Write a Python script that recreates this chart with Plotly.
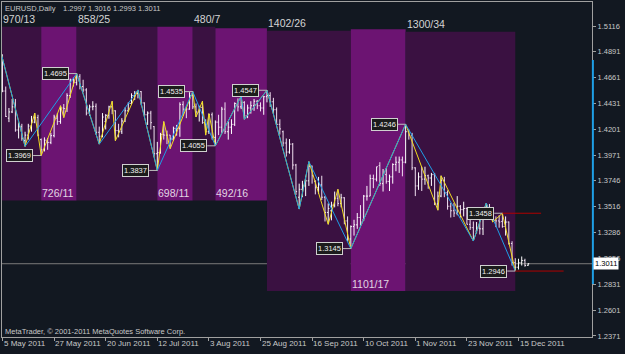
import plotly.graph_objects as go

# ---------------- data ----------------
open_ = [1.4830,1.4540,1.4300,1.4355,1.4400,1.4195,1.4225,1.4100,1.4150,1.4230,1.4265,1.4305,1.4110,1.4020,1.4105,1.4085,
         1.4145,1.4300,1.4270,1.4390,1.4385,1.4500,1.4640,1.4615,1.4670,1.4580,1.4550,1.4345,1.4400,1.4405,1.4175,1.4140,
         1.4270,1.4325,1.4400,1.4365,1.4190,1.4180,1.4275,1.4365,1.4430,1.4500,1.4520,1.4535,1.4435,1.4330,1.4345,1.4225,
         1.3985,1.3995,1.4155,1.4150,1.4150,1.4115,1.4210,1.4210,1.4420,1.4380,1.4380,1.4500,1.4400,1.4355,1.4395,1.4260,
         1.4180,1.4330,1.4130,1.4265,1.4220,1.4380,1.4180,1.4220,1.4245,1.4430,1.4400,1.4440,1.4320,1.4390,1.4410,1.4450,
         1.4410,1.4390,1.4490,1.4500,1.4445,1.4375,1.4245,1.4180,1.4080,1.4000,1.4070,1.3885,1.3600,1.3670,1.3700,1.3745,
         1.3875,1.3740,1.3685,1.3710,1.3600,1.3465,1.3480,1.3530,1.3590,1.3545,1.3595,1.3390,1.3230,1.3340,1.3355,1.3420,
         1.3400,1.3610,1.3610,1.3765,1.3760,1.3880,1.3720,1.3800,1.3740,1.3780,1.3890,1.3910,1.3930,1.3910,1.4180,1.4150,
         1.3860,1.3700,1.3780,1.3760,1.3790,1.3770,1.3800,1.3540,1.3610,1.3750,1.3640,1.3520,1.3480,1.3460,1.3520,1.3490,
         1.3500,1.3360,1.3330,1.3300,1.3325,1.3320,1.3445,1.3470,1.3435,1.3400,1.3390,1.3385,1.3340,1.3380,1.3190,1.3020,
         1.2980,1.3020,1.3040,1.2997]
high = [1.4865,1.4580,1.4390,1.4470,1.4470,1.4260,1.4250,1.4180,1.4250,1.4320,1.4345,1.4330,1.4120,1.4130,1.4125,1.4170,
        1.4330,1.4345,1.4410,1.4425,1.4520,1.4650,1.4660,1.4695,1.4690,1.4640,1.4565,1.4420,1.4450,1.4430,1.4225,1.4345,
        1.4335,1.4410,1.4450,1.4370,1.4250,1.4300,1.4395,1.4440,1.4520,1.4540,1.4550,1.4540,1.4440,1.4360,1.4365,1.4230,
        1.4090,1.4170,1.4270,1.4190,1.4150,1.4225,1.4240,1.4440,1.4450,1.4400,1.4530,1.4535,1.4430,1.4410,1.4450,1.4290,
        1.4340,1.4350,1.4280,1.4330,1.4400,1.4440,1.4270,1.4290,1.4440,1.4475,1.4495,1.4450,1.4420,1.4450,1.4470,1.4460,
        1.4440,1.4495,1.4547,1.4530,1.4480,1.4395,1.4290,1.4190,1.4120,1.4115,1.4080,1.3895,1.3720,1.3745,1.3790,1.3915,
        1.3880,1.3750,1.3780,1.3790,1.3610,1.3545,1.3560,1.3650,1.3670,1.3630,1.3600,1.3430,1.3350,1.3400,1.3460,1.3530,
        1.3620,1.3700,1.3800,1.3800,1.3870,1.3910,1.3850,1.3860,1.3800,1.3900,1.3960,1.3960,1.3960,1.4246,1.4200,1.4170,
        1.3865,1.3820,1.3870,1.3870,1.3800,1.3815,1.3815,1.3650,1.3790,1.3780,1.3660,1.3550,1.3550,1.3610,1.3530,1.3560,
        1.3510,1.3405,1.3385,1.3380,1.3410,1.3460,1.3548,1.3540,1.3490,1.3430,1.3440,1.3458,1.3430,1.3385,1.3210,1.3060,
        1.3055,1.3075,1.3055,1.3016]
low = [1.4530,1.4310,1.4265,1.4345,1.4180,1.4120,1.4100,1.4050,1.4110,1.4180,1.4255,1.4140,1.3969,1.4005,1.4020,1.4070,
       1.4130,1.4240,1.4250,1.4305,1.4355,1.4480,1.4580,1.4590,1.4555,1.4530,1.4325,1.4320,1.4370,1.4155,1.4070,1.4130,
       1.4200,1.4295,1.4335,1.4100,1.4130,1.4160,1.4265,1.4355,1.4420,1.4460,1.4475,1.4415,1.4325,1.4240,1.4200,1.3960,
       1.3837,1.3985,1.4110,1.4070,1.4030,1.4100,1.4145,1.4135,1.4320,1.4300,1.4375,1.4380,1.4310,1.4270,1.4250,1.4150,
       1.4160,1.4110,1.4055,1.4150,1.4170,1.4160,1.4110,1.4160,1.4230,1.4360,1.4380,1.4290,1.4300,1.4340,1.4365,1.4380,
       1.4360,1.4330,1.4440,1.4400,1.4340,1.4235,1.4155,1.4050,1.3960,1.3985,1.3845,1.3620,1.3495,1.3600,1.3610,1.3700,
       1.3720,1.3625,1.3630,1.3575,1.3385,1.3360,1.3395,1.3510,1.3520,1.3510,1.3360,1.3210,1.3145,1.3260,1.3320,1.3350,
       1.3390,1.3570,1.3610,1.3680,1.3740,1.3700,1.3650,1.3720,1.3655,1.3720,1.3830,1.3815,1.3785,1.3900,1.4110,1.3840,
       1.3610,1.3665,1.3655,1.3710,1.3675,1.3700,1.3530,1.3485,1.3600,1.3600,1.3490,1.3420,1.3425,1.3440,1.3420,1.3430,
       1.3360,1.3310,1.3212,1.3280,1.3270,1.3265,1.3420,1.3410,1.3380,1.3335,1.3330,1.3330,1.3260,1.3180,1.2995,1.2946,
       1.2960,1.2995,1.2985,1.2993]
close = [1.4540,1.4315,1.4355,1.4400,1.4195,1.4225,1.4120,1.4150,1.4230,1.4265,1.4305,1.4150,1.4020,1.4105,1.4085,1.4145,
         1.4310,1.4270,1.4390,1.4385,1.4500,1.4640,1.4615,1.4670,1.4580,1.4550,1.4345,1.4400,1.4405,1.4175,1.4140,1.4310,
         1.4325,1.4400,1.4365,1.4190,1.4180,1.4275,1.4365,1.4430,1.4500,1.4520,1.4535,1.4435,1.4330,1.4345,1.4260,1.3985,
         1.3995,1.4155,1.4150,1.4150,1.4115,1.4210,1.4210,1.4420,1.4380,1.4380,1.4500,1.4400,1.4355,1.4395,1.4260,1.4180,
         1.4330,1.4130,1.4265,1.4220,1.4380,1.4180,1.4220,1.4245,1.4430,1.4400,1.4440,1.4320,1.4390,1.4410,1.4450,1.4410,
         1.4390,1.4490,1.4500,1.4445,1.4375,1.4245,1.4205,1.4080,1.4000,1.4070,1.3885,1.3650,1.3670,1.3700,1.3745,1.3875,
         1.3790,1.3685,1.3710,1.3600,1.3465,1.3500,1.3530,1.3590,1.3545,1.3595,1.3390,1.3230,1.3340,1.3355,1.3420,1.3380,
         1.3610,1.3610,1.3765,1.3760,1.3870,1.3720,1.3800,1.3740,1.3780,1.3890,1.3910,1.3930,1.3910,1.4180,1.4150,1.3860,
         1.3700,1.3780,1.3760,1.3790,1.3770,1.3800,1.3540,1.3610,1.3750,1.3640,1.3520,1.3480,1.3460,1.3520,1.3490,1.3500,
         1.3360,1.3330,1.3240,1.3325,1.3320,1.3445,1.3470,1.3435,1.3400,1.3390,1.3380,1.3340,1.3380,1.3190,1.3020,1.2980,
         1.3020,1.3040,1.2995,1.3011]
bar_index = list(range(len(close)))

date_tick_index = [0, 16, 32, 48, 64, 80, 96, 112, 128, 144, 160]
date_tick_text = ["5 May 2011", "27 May 2011", "20 Jun 2011", "12 Jul 2011", "3 Aug 2011", "25 Aug 2011",
                  "16 Sep 2011", "10 Oct 2011", "1 Nov 2011", "23 Nov 2011", "15 Dec 2011"]

price_ticks = [1.5116, 1.4891, 1.4661, 1.4431, 1.4201, 1.3971, 1.3746, 1.3516, 1.3286, 1.3056, 1.2831, 1.2601, 1.2371]

# swing zones (bar index start/end, price top/bottom), label, direction
zone_start = [-1, 12, 23, 48, 59, 66, 82, 108, 125]
zone_end = [12, 23, 48, 59, 66, 82, 108, 125, 159]
zone_top = [1.5110, 1.5110, 1.5110, 1.5110, 1.5110, 1.5096, 1.5074, 1.5087, 1.5066]
zone_bottom = [1.3571, 1.3571, 1.3571, 1.3571, 1.3571, 1.3571, 1.2769, 1.2769, 1.2769]
zone_label = ["970/13", "726/11", "858/25", "698/11", "480/7", "492/16", "1402/26", "1101/17", "1300/34"]
zone_up = [False, True, False, True, False, True, False, True, False]

# zigzags
blue_idx = [-1, 7, 23, 30, 42, 48, 59, 66, 74, 75, 82, 92, 95, 108, 125, 146, 150, 159]
blue_px = [1.4939, 1.4050, 1.4695, 1.4070, 1.4550, 1.3837, 1.4535, 1.4055, 1.4495, 1.4290, 1.4547,
           1.3495, 1.3915, 1.3145, 1.4246, 1.3212, 1.3548, 1.2946]
yellow_idx = [-1, 7, 10, 12, 18, 19, 23, 30, 34, 35, 42, 48, 50, 52, 59, 60, 62, 63, 64, 66, 74, 75, 82,
              92, 95, 101, 104, 108, 125, 135, 136, 146, 150, 152, 155, 159]
yellow_px = [1.4939, 1.4050, 1.4345, 1.3969, 1.4410, 1.4305, 1.4695, 1.4070, 1.4450, 1.4100, 1.4550, 1.3837,
             1.4270, 1.4030, 1.4535, 1.4310, 1.4450, 1.4150, 1.4340, 1.4055, 1.4495, 1.4290, 1.4547,
             1.3495, 1.3915, 1.3360, 1.3670, 1.3145, 1.4246, 1.3485, 1.3790, 1.3212, 1.3548, 1.3380, 1.3458, 1.2946]

# price labels
label_idx = [12, 23, 48, 59, 66, 82, 108, 125, 155, 159]
label_px = [1.3969, 1.4695, 1.3837, 1.4535, 1.4055, 1.4547, 1.3145, 1.4246, 1.3458, 1.2946]

# red level lines
red_px = [1.3458, 1.2946]
red_start = [155, 159]
red_end = [167, 174]

last_price = 1.3011
range_bar = [1.4815, 1.2831]

# ---------------- styling ----------------
BG = "#121821"
DARK_ZONE = "#3a1141"
BRIGHT_ZONE = "#6c1472"
TXT = "#c8c8c8"
FONT = "Liberation Sans"

XMIN, XMAX = -0.155, 182.79
YMIN, YMAX = 1.23621, 1.53286

fig = go.Figure()

# zones
for s, e, t, b, up in zip(zone_start, zone_end, zone_top, zone_bottom, zone_up):
    fig.add_shape(type="rect", xref="x", yref="y", x0=s, x1=e, y0=b, y1=t,
                  fillcolor=BRIGHT_ZONE if up else DARK_ZONE, line_width=0, layer="below")

# last price line
fig.add_shape(type="line", xref="paper", yref="y", x0=0, x1=1, y0=last_price, y1=last_price,
              line=dict(color="#7a7a7a", width=1), layer="below")

# bars
fig.add_trace(go.Ohlc(x=bar_index, open=open_, high=high, low=low, close=close,
                      increasing=dict(line=dict(color="#ffffff", width=1)),
                      decreasing=dict(line=dict(color="#f0e0f0", width=1)),
                      tickwidth=0.35, hoverinfo="skip", showlegend=False))

# zigzags
fig.add_trace(go.Scatter(x=yellow_idx, y=yellow_px, mode="lines",
                         line=dict(color="#f0dc1e", width=1), hoverinfo="skip", showlegend=False))
fig.add_trace(go.Scatter(x=blue_idx, y=blue_px, mode="lines",
                         line=dict(color="#1e9fe6", width=1), hoverinfo="skip", showlegend=False))

# connectors for price labels
cx, cy = [], []
for i, p in zip(label_idx, label_px):
    cx += [i - 2.5, i, None]
    cy += [p, p, None]
fig.add_trace(go.Scatter(x=cx, y=cy, mode="lines", line=dict(color="#bdbdbd", width=1),
                         hoverinfo="skip", showlegend=False))

# red lines
for p, s, e in zip(red_px, red_start, red_end):
    fig.add_shape(type="line", xref="x", yref="y", x0=s, x1=e, y0=p, y1=p,
                  line=dict(color="#b00000", width=1))

# blue range bar on the price axis
fig.add_shape(type="line", xref="paper", yref="y", x0=1.0015, x1=1.0015, y0=range_bar[0], y1=range_bar[1],
              line=dict(color="#1e9fe6", width=2))

ann = []
# price labels
for i, p in zip(label_idx, label_px):
    ann.append(dict(x=i, y=p, xref="x", yref="y", text=f"{p:.4f}", showarrow=False,
                    xanchor="right", yanchor="middle", xshift=-8,
                    font=dict(family=FONT, size=7.5, color="#f0f0f0"),
                    bgcolor="#1c1c1c", bordercolor="#d0d0d0", borderwidth=1, borderpad=1))
# zone labels
for s, t, b, lab, up in zip(zone_start, zone_top, zone_bottom, zone_label, zone_up):
    ann.append(dict(x=max(s, XMIN + 0.05), y=b if up else t, xref="x", yref="y", text=lab, showarrow=False,
                    xanchor="left", yanchor="bottom", xshift=0, yshift=0 if up else 1,
                    font=dict(family=FONT, size=10.5, color="#e2d6e2" if up else "#d4d4d4"),
                    borderpad=0))
# date labels
for i, t in zip(date_tick_index, date_tick_text):
    ann.append(dict(x=i, y=0, xref="x", yref="paper", text=t, showarrow=False,
                    xanchor="left", yanchor="top", xshift=0, yshift=-1,
                    font=dict(family=FONT, size=8, color=TXT), borderpad=0))
# header
ann.append(dict(x=0, y=1, xref="paper", yref="paper", text="EURUSD,Daily", showarrow=False,
                xanchor="left", yanchor="top", xshift=2, yshift=-1,
                font=dict(family=FONT, size=7.5, color=TXT), borderpad=0))
ann.append(dict(x=0, y=1, xref="paper", yref="paper", text="1.2997 1.3016 1.2993 1.3011", showarrow=False,
                xanchor="left", yanchor="top", xshift=60, yshift=-1,
                font=dict(family=FONT, size=7.5, color=TXT), borderpad=0))
# copyright
ann.append(dict(x=0, y=0, xref="paper", yref="paper",
                text="MetaTrader, \u00a9 2001-2011 MetaQuotes Software Corp.", showarrow=False,
                xanchor="left", yanchor="bottom", xshift=2, yshift=0,
                font=dict(family=FONT, size=7.5, color=TXT), borderpad=0))
# last price tag
ann.append(dict(x=1, y=last_price, xref="paper", yref="y", text=f"{last_price:.4f}", showarrow=False,
                xanchor="left", yanchor="middle", xshift=1,
                font=dict(family=FONT, size=7.5, color="#000000"),
                bgcolor="#ffffff", borderpad=1))

fig.update_layout(
    width=625, height=354,
    margin=dict(l=2, r=33, t=2, b=17),
    paper_bgcolor=BG, plot_bgcolor=BG,
    showlegend=False,
    annotations=ann,
    xaxis=dict(range=[XMIN, XMAX], showgrid=False, zeroline=False, rangeslider=dict(visible=False),
               tickvals=date_tick_index, showticklabels=False, ticks="outside", ticklen=3,
               tickcolor="#a0a0a0", showline=True, linecolor="#a0a0a0", linewidth=1, mirror=True),
    yaxis=dict(range=[YMIN, YMAX], side="right", showgrid=False, zeroline=False,
               tickvals=price_ticks, ticktext=[f"{v:.4f}" for v in price_ticks],
               ticks="outside", ticklen=3, tickcolor="#a0a0a0",
               tickfont=dict(family=FONT, size=7.5, color=TXT),
               showline=True, linecolor="#a0a0a0", linewidth=1, mirror=True),
)

fig.write_html("out.html")
